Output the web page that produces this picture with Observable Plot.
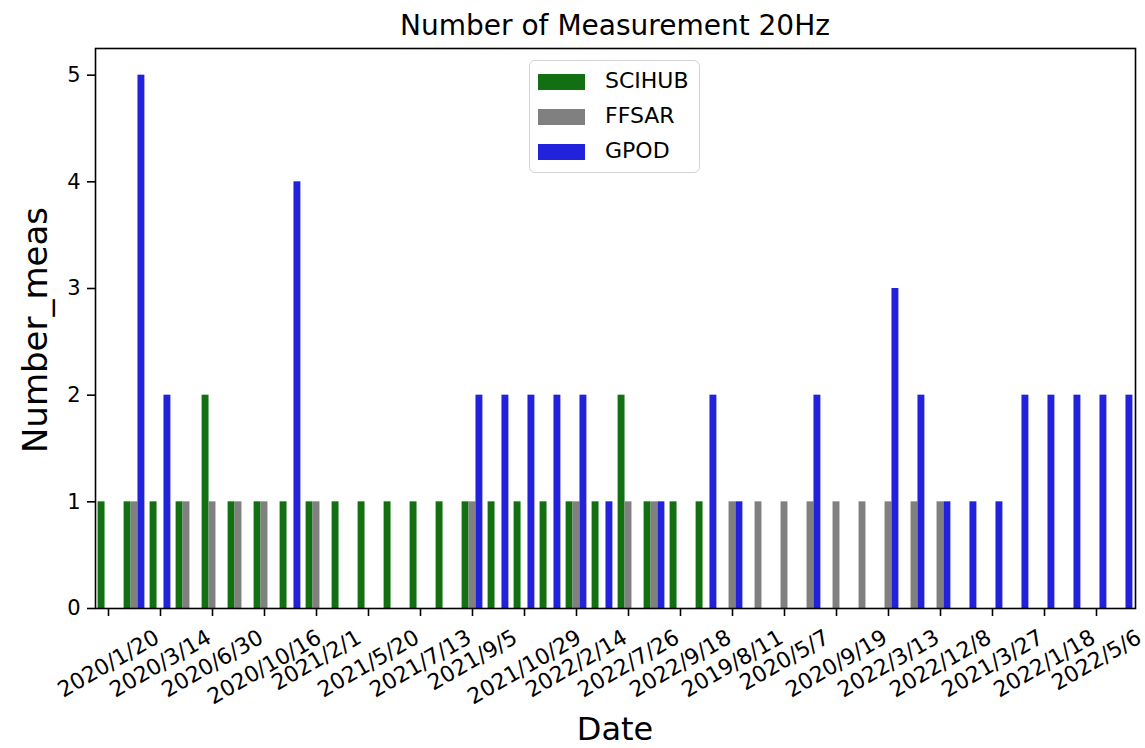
<!DOCTYPE html>
<html>
<head>
<meta charset="utf-8">
<script src="https://cdn.jsdelivr.net/npm/d3@7"></script>
<script src="https://cdn.jsdelivr.net/npm/@observablehq/plot@0.6"></script>
<style>
  body { margin: 0; background: #fff; font-family: "DejaVu Sans", sans-serif; }
  #wrap { position: relative; width: 1145px; height: 748px; overflow: hidden; }
  #chart { position: absolute; left: 0; top: 0; }
  #title { position: absolute; left: 95px; width: 1040px; top: 9px; text-align: center; font-size: 28px; line-height: 34px; color: #000; white-space: nowrap; }
  #xlabel { position: absolute; left: 95px; width: 1040px; top: 713px; text-align: center; font-size: 32px; line-height: 32px; color: #000; }
  #ylabel { position: absolute; left: 35px; top: 330px; transform: translate(-50%, -50%) rotate(-90deg); font-size: 34px; line-height: 40px; color: #000; white-space: nowrap; }
  #legend { position: absolute; left: 529px; top: 60px; width: 171px; height: 113px; box-sizing: border-box; border: 1.5px solid #d3d3d3; border-radius: 6px; background: rgba(255,255,255,0.8); }
  .row { position: absolute; left: 0; height: 35px; }
  .sw { position: absolute; left: 8px; top: 10px; width: 47px; height: 16px; }
  .lab { position: absolute; left: 75px; top: 4px; font-size: 22px; line-height: 26px; color: #000; white-space: nowrap; }
</style>
</head>
<body>
<div id="wrap">
  <div id="chart"></div>
  <div id="title">Number of Measurement 20Hz</div>
  <div id="xlabel">Date</div>
  <div id="ylabel">Number_meas</div>
  <div id="legend"></div>
</div>
<script>
// ---- data ----
const groups = d3.range(40); // 40 date groups, labelled every other one
const tickLabels = ["2020/1/20","2020/3/14","2020/6/30","2020/10/16","2021/2/1","2021/5/20","2021/7/13","2021/9/5","2021/10/29","2022/2/14","2022/7/26","2022/9/18","2019/8/11","2020/5/7","2020/9/19","2022/3/13","2022/12/8","2021/3/27","2022/1/18","2022/5/6"];
const seriesNames = ["SCIHUB", "FFSAR", "GPOD"];
const seriesColors = ["#127012", "#808080", "#2222dd"];
const scihub = [1,1,1,1,2,1,1,1,1,1, 1,1,1,1,1,1,1,1,1,1, 2,1,1,1,0,0,0,0,0,0, 0,0,0,0,0,0,0,0,0,0];
const ffsar  = [0,1,0,1,1,1,1,0,1,0, 0,0,0,0,1,0,0,0,1,0, 1,1,0,0,1,1,1,1,1,1, 1,1,1,0,0,0,0,0,0,0];
const gpod   = [0,5,2,0,0,0,0,4,0,0, 0,0,0,0,2,2,2,2,2,1, 0,1,0,2,1,0,0,2,0,0, 3,2,1,1,1,2,2,2,2,2];
const seriesValues = [scihub, ffsar, gpod];
const yTicks = [0,1,2,3,4,5];

// ---- layout ----
const W = 1145, H = 748, mL = 95, mR = 10, mT = 48, mB = 140;
const step = (W - mL - mR) / groups.length;
const bandW = step * 0.8, sub = bandW / 3;
const fontSize = 21;
const xTickFont = 22;

const tickGroups = groups.filter(i => i % 2 === 0);

const ctx = document.createElement("canvas").getContext("2d");
ctx.font = `${xTickFont}px "DejaVu Sans"`;

const barMarks = seriesNames.map((name, k) =>
  Plot.barY(
    groups.map(i => ({ i, v: seriesValues[k][i] })).filter(d => d.v > 0),
    { x: "i", y: "v", fill: seriesColors[k], insetLeft: sub * k, insetRight: sub * (2 - k) }
  )
);

const labelMarks = tickGroups.map((i, k) => {
  const w = ctx.measureText(tickLabels[k]).width;
  const vExt = 0.5 * w + 0.866 * xTickFont * 1.164;
  return Plot.text([{ i, t: tickLabels[k] }], {
    x: "i", text: "t", frameAnchor: "bottom", rotate: -30,
    textAnchor: "middle", lineAnchor: "middle", fontSize: xTickFont, fill: "#000",
    dy: 16 + vExt / 2
  });
});

const chart = Plot.plot({
  width: W, height: H,
  marginLeft: mL, marginRight: mR, marginTop: mT, marginBottom: mB,
  style: { fontFamily: "DejaVu Sans", fontSize: "21px", background: "#fff", color: "#000" },
  x: { type: "band", domain: groups, paddingInner: 0.2, paddingOuter: 0.1, round: false },
  y: { domain: [0, 5.25] },
  marks: [
    ...barMarks,
    Plot.frame({ stroke: "#000", strokeWidth: 1.6 }),
    Plot.axisY({ ticks: yTicks, tickSize: 8, tickPadding: 7, fontSize, label: null, tickFormat: d3.format("d"), strokeWidth: 1.6 }),
    Plot.axisX({ ticks: tickGroups, tickSize: 8, tickFormat: () => "", label: null, strokeWidth: 1.6 }),
    ...labelMarks
  ]
});
document.getElementById("chart").appendChild(chart);

// legend
const legend = document.getElementById("legend");
seriesNames.forEach((name, k) => {
  const row = document.createElement("div");
  row.className = "row";
  row.style.top = (3 + k * 35) + "px";
  row.style.width = "100%";
  const sw = document.createElement("div");
  sw.className = "sw";
  sw.style.background = seriesColors[k];
  const lab = document.createElement("div");
  lab.className = "lab";
  lab.textContent = name;
  row.appendChild(sw); row.appendChild(lab);
  legend.appendChild(row);
});
</script>
</body>
</html>
